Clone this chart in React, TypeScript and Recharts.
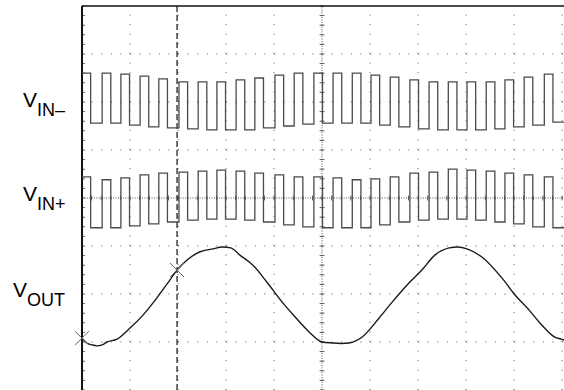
import React from "react";
import { ComposedChart, Line, XAxis, YAxis, ReferenceLine, ReferenceDot } from "recharts";

// scope screen: time and level both in divisions (level 0 = bottom, 8 = top)
const T_END = 10.04;

// rising edges of the two input square waves, and the pulse width
const RISE_TIMES = [
  0, 0.42, 0.81, 1.21, 1.6, 2.02, 2.42, 2.81, 3.21, 3.6, 4.02, 4.42, 4.83,
  5.23, 5.63, 6.02, 6.42, 6.83, 7.23, 7.63, 8.02, 8.42, 8.81, 9.21, 9.63,
];
const PULSE_WIDTH = 0.18;

const VIN_MINUS_HIGH = [
  6.6, 6.6, 6.58, 6.54, 6.48, 6.42, 6.42, 6.42, 6.46, 6.5, 6.56, 6.6, 6.6,
  6.6, 6.6, 6.56, 6.52, 6.46, 6.42, 6.42, 6.42, 6.42, 6.46, 6.52, 6.58,
];
const VIN_MINUS_LOW = [
  5.56, 5.56, 5.52, 5.48, 5.46, 5.44, 5.42, 5.42, 5.42, 5.46, 5.5, 5.54, 5.56,
  5.56, 5.56, 5.52, 5.48, 5.44, 5.42, 5.42, 5.42, 5.44, 5.48, 5.52, 5.58,
];
const VIN_PLUS_HIGH = [
  4.44, 4.38, 4.42, 4.48, 4.52, 4.54, 4.56, 4.58, 4.56, 4.52, 4.48, 4.44, 4.44,
  4.42, 4.38, 4.4, 4.44, 4.52, 4.54, 4.6, 4.58, 4.56, 4.52, 4.48, 4.44,
];
const VIN_PLUS_LOW = [
  3.38, 3.38, 3.42, 3.46, 3.5, 3.54, 3.56, 3.56, 3.54, 3.5, 3.44, 3.4, 3.38,
  3.38, 3.38, 3.44, 3.5, 3.54, 3.56, 3.56, 3.54, 3.5, 3.46, 3.4, 3.38,
];

const VOUT_T = [
  0, 0.1, 0.21, 0.31, 0.42, 0.52, 0.73, 1.0, 1.27, 1.56, 1.83, 1.98, 2.19,
  2.46, 2.73, 2.92, 3.1, 3.29, 3.56, 3.85, 4.17, 4.44, 4.73, 5.0, 5.21, 5.4,
  5.56, 5.83, 6.19, 6.46, 6.81, 7.08, 7.35, 7.65, 7.83, 8.02, 8.33, 8.75,
  9.02, 9.31, 9.58, 9.85, 9.98, 10.04,
];
const VOUT_V = [
  1.08, 0.98, 0.94, 0.92, 0.94, 1.0, 1.06, 1.29, 1.56, 1.92, 2.29, 2.5, 2.71,
  2.88, 2.94, 2.98, 2.96, 2.81, 2.6, 2.25, 1.83, 1.52, 1.21, 1.0, 0.98, 0.97,
  0.98, 1.1, 1.5, 1.83, 2.23, 2.5, 2.81, 2.96, 2.98, 2.94, 2.77, 2.33, 1.98,
  1.67, 1.35, 1.1, 1.06, 1.04,
];

// cursor crosses on V_OUT
const CURSOR_T = [0, 1.98];
const CURSOR_V = [1.08, 2.5];

const squareWave = (high: number[], low: number[]) => {
  const pts: { t: number; v: number }[] = [];
  RISE_TIMES.forEach((t, i) => {
    pts.push({ t, v: high[i] });
    pts.push({ t: t + PULSE_WIDTH, v: low[i] });
  });
  pts.push({ t: T_END, v: low[low.length - 1] });
  return pts;
};

const vinMinus = squareWave(VIN_MINUS_HIGH, VIN_MINUS_LOW);
const vinPlus = squareWave(VIN_PLUS_HIGH, VIN_PLUS_LOW);
const vout = VOUT_T.map((t, i) => ({ t, v: VOUT_V[i] }));

const GRID = "#555";
const minorX: number[] = [];
for (let t = 0; t <= 10.001; t += 0.2) minorX.push(+t.toFixed(2));
const minorY: number[] = [];
for (let v = 0; v <= 8.001; v += 0.2) minorY.push(+v.toFixed(2));

const Cross = (props: any) => {
  const { cx, cy } = props;
  const a = 7;
  return (
    <g stroke="#666" strokeWidth={1}>
      <line x1={cx - a} y1={cy - a} x2={cx + a} y2={cy + a} />
      <line x1={cx - a} y1={cy + a} x2={cx + a} y2={cy - a} />
    </g>
  );
};

const Label = ({ x, y, sub }: { x: number; y: number; sub: string }) => (
  <text x={x} y={y} fontFamily="'Liberation Sans', Arial, sans-serif" fill="#000">
    <tspan fontSize={21}>V</tspan>
    <tspan fontSize={18} dy={9}>{sub}</tspan>
  </text>
);

const App: React.FC = () => {
  return (
    <div style={{ position: "absolute", left: 0, top: 0, width: 564, height: 390, background: "#fff" }}>
      <ComposedChart width={564} height={390} margin={{ top: 6, right: 0, bottom: 0, left: 82 }}>
        <XAxis type="number" dataKey="t" domain={[0, T_END]} hide allowDataOverflow />
        <YAxis type="number" dataKey="v" domain={[0, 8]} hide allowDataOverflow />

        {[1, 2, 3, 4, 6, 7, 8, 9, 10].map((t) => (
          <ReferenceLine key={"gx" + t} x={t} stroke={GRID} strokeWidth={1} strokeDasharray="1 8.6" />
        ))}
        {[1, 2, 3, 5, 6, 7].map((v) => (
          <ReferenceLine key={"gy" + v} y={v} stroke={GRID} strokeWidth={1} strokeDasharray="1 8.6" />
        ))}
        <ReferenceLine x={5} stroke={GRID} strokeDasharray="1 1.4" />
        <ReferenceLine y={4} stroke={GRID} strokeDasharray="1 1.4" />
        {minorX.map((t) => (
          <ReferenceLine key={"mx" + t} segment={[{ x: t, y: 3.95 }, { x: t, y: 4.05 }]} stroke={GRID} />
        ))}
        {minorY.map((v) => (
          <ReferenceLine key={"my" + v} segment={[{ x: 4.95, y: v }, { x: 5.05, y: v }]} stroke={GRID} />
        ))}
        {minorY.map((v) => (
          <ReferenceLine key={"ly" + v} segment={[{ x: 0, y: v }, { x: 0.06, y: v }]} stroke={GRID} />
        ))}

        <ReferenceLine x={CURSOR_T[1]} stroke="#111" strokeWidth={1.2} strokeDasharray="6 3" />
        <ReferenceLine y={8} stroke="#111" strokeWidth={1.5} />
        <ReferenceLine x={0} stroke="#111" strokeWidth={2} />

        <Line data={vinMinus} dataKey="v" type="stepAfter" stroke="#4a4a4a" strokeWidth={1.3} dot={false} isAnimationActive={false} />
        <Line data={vinPlus} dataKey="v" type="stepAfter" stroke="#4a4a4a" strokeWidth={1.3} dot={false} isAnimationActive={false} />
        <Line data={vout} dataKey="v" type="monotone" stroke="#1a1a1a" strokeWidth={1.4} dot={false} isAnimationActive={false} />

        {CURSOR_T.map((t, i) => (
          <ReferenceDot key={"c" + i} x={t} y={CURSOR_V[i]} shape={Cross} />
        ))}
      </ComposedChart>
      <svg width={82} height={390} style={{ position: "absolute", left: 0, top: 0 }}>
        <Label x={23} y={107} sub="IN–" />
        <Label x={23} y={201} sub="IN+" />
        <Label x={13} y={297} sub="OUT" />
      </svg>
    </div>
  );
};

export default App;
